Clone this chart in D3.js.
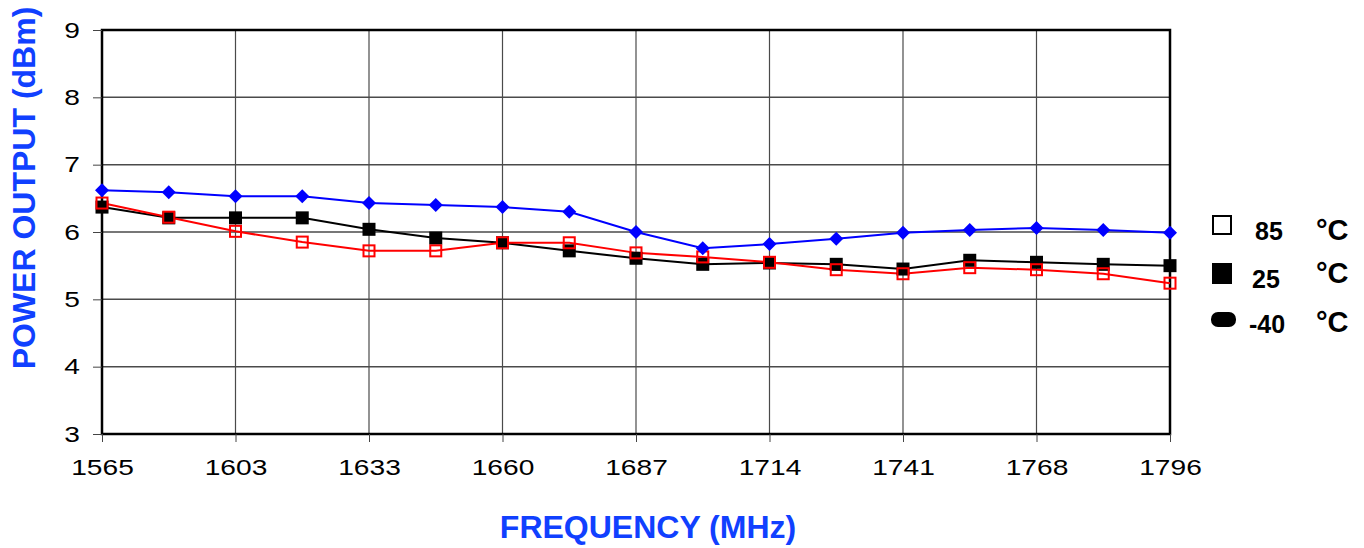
<!DOCTYPE html>
<html>
<head>
<meta charset="utf-8">
<script src="https://cdn.jsdelivr.net/npm/d3@7/dist/d3.min.js"></script>
<style>
  body { margin: 0; background: #fff; }
  svg { display: block; font-family: "Liberation Sans", Arial, sans-serif; }
</style>
</head>
<body>
<div id="chart"></div>
<script>
// Frequency points: 17 measurements, only every other one is labelled.
const pointIndex = d3.range(17);
const freqLabels = ["1565", "1603", "1633", "1660", "1687", "1714", "1741", "1768", "1796"];
const yTicks = [3, 4, 5, 6, 7, 8, 9];

// Power output (dBm) per temperature.
const powerMinus40 = [6.62, 6.59, 6.53, 6.53, 6.43, 6.40, 6.37, 6.30, 6.00, 5.76, 5.82, 5.90, 5.99, 6.03, 6.06, 6.03, 5.99];
const power25 = [6.37, 6.21, 6.21, 6.21, 6.04, 5.91, 5.84, 5.72, 5.61, 5.52, 5.54, 5.52, 5.45, 5.58, 5.55, 5.52, 5.50];
const power85 = [6.43, 6.22, 6.01, 5.85, 5.72, 5.72, 5.84, 5.84, 5.69, 5.63, 5.55, 5.44, 5.38, 5.47, 5.44, 5.38, 5.24];

const legendLabels = ["85", "25", "-40"];

// Layout
const width = 1364;
const height = 548;
const margin = { top: 30, right: 194, bottom: 114, left: 102 };
const innerW = width - margin.left - margin.right;
const innerH = height - margin.top - margin.bottom;
const tickStretch = 1.28;

const svg = d3.select("#chart").append("svg")
  .attr("width", width)
  .attr("height", height);

const g = svg.append("g")
  .attr("transform", `translate(${margin.left},${margin.top})`);

// Scales
const x = d3.scalePoint().domain(pointIndex).range([0, innerW]);
const y = d3.scaleLinear().domain([3, 9]).range([innerH, 0]);

// Horizontal grid
g.append("g")
  .selectAll("line")
  .data(yTicks)
  .join("line")
  .attr("x1", 0).attr("x2", innerW)
  .attr("y1", (d) => y(d)).attr("y2", (d) => y(d))
  .attr("stroke", "#4a4a4a").attr("stroke-width", 1.5);

// Vertical grid at labelled points
const labelledIdx = pointIndex.filter((i) => i % 2 === 0);
g.append("g")
  .selectAll("line")
  .data(labelledIdx)
  .join("line")
  .attr("x1", (d) => x(d)).attr("x2", (d) => x(d))
  .attr("y1", 0).attr("y2", innerH)
  .attr("stroke", "#4a4a4a").attr("stroke-width", 1.2);

// Frame
g.append("rect")
  .attr("x", 0).attr("y", 0)
  .attr("width", innerW).attr("height", innerH)
  .attr("fill", "none")
  .attr("stroke", "#000").attr("stroke-width", 2.5);

// X axis
const xAxis = g.append("g")
  .attr("transform", `translate(0,${innerH})`)
  .call(d3.axisBottom(x)
    .tickValues(labelledIdx)
    .tickFormat((d) => freqLabels[d / 2])
    .tickSize(8)
    .tickPadding(11));
xAxis.select(".domain").remove();
xAxis.selectAll(".tick line").attr("stroke", "#444");
xAxis.selectAll(".tick text")
  .attr("font-size", 22)
  .attr("fill", "#000")
  .attr("transform", `scale(${tickStretch},1)`)
  .attr("dy", "1em");

// Y axis
const yAxis = g.append("g")
  .call(d3.axisLeft(y)
    .tickValues(yTicks)
    .tickFormat(d3.format("d"))
    .tickSize(9)
    .tickPadding(13));
yAxis.select(".domain").remove();
yAxis.selectAll(".tick line").attr("stroke", "#444");
yAxis.selectAll(".tick text")
  .attr("font-size", 22)
  .attr("fill", "#000")
  .attr("x", -22 / tickStretch)
  .attr("transform", `scale(${tickStretch},1)`);

// Lines
const line = d3.line().x((d, i) => x(i)).y((d) => y(d));

function drawLine(values, color) {
  g.append("path")
    .datum(values)
    .attr("d", line)
    .attr("fill", "none")
    .attr("stroke", color)
    .attr("stroke-width", 2);
}

drawLine(power25, "#000");
drawLine(power85, "#ff0000");
drawLine(powerMinus40, "#0000ff");

// Markers
g.append("g")
  .selectAll("rect")
  .data(power25)
  .join("rect")
  .attr("x", (d, i) => x(i) - 6.5)
  .attr("y", (d) => y(d) - 6.5)
  .attr("width", 13).attr("height", 13)
  .attr("fill", "#000");

g.append("g")
  .selectAll("rect")
  .data(power85)
  .join("rect")
  .attr("x", (d, i) => x(i) - 5.5)
  .attr("y", (d) => y(d) - 5.5)
  .attr("width", 11).attr("height", 11)
  .attr("fill", "none")
  .attr("stroke", "#ff0000").attr("stroke-width", 2);

g.append("g")
  .selectAll("path")
  .data(powerMinus40)
  .join("path")
  .attr("transform", (d, i) => `translate(${x(i)},${y(d)})`)
  .attr("d", "M0,-7L7,0L0,7L-7,0Z")
  .attr("fill", "#0000ff");

// Axis titles
svg.append("text")
  .attr("transform", `translate(35,${188})rotate(-90)`)
  .attr("text-anchor", "middle")
  .attr("font-size", 32)
  .attr("font-weight", "bold")
  .attr("fill", "#1040ff")
  .text("POWER OUTPUT (dBm)");

svg.append("text")
  .attr("x", 648).attr("y", 538)
  .attr("text-anchor", "middle")
  .attr("font-size", 32)
  .attr("font-weight", "bold")
  .attr("fill", "#1040ff")
  .text("FREQUENCY (MHz)");

// Legend
const legend = svg.append("g");
const rowY = [225, 273, 320];

legend.append("rect")
  .attr("x", 1213).attr("y", rowY[0] - 9)
  .attr("width", 18).attr("height", 18)
  .attr("fill", "#fff").attr("stroke", "#000").attr("stroke-width", 2);
legend.append("rect")
  .attr("x", 1212).attr("y", rowY[1] - 10)
  .attr("width", 20).attr("height", 21)
  .attr("fill", "#000");
legend.append("rect")
  .attr("x", 1211).attr("y", rowY[2] - 8)
  .attr("width", 25).attr("height", 15)
  .attr("rx", 7)
  .attr("fill", "#000");

const labelX = [1255, 1252, 1249];
const labelBase = [240, 288, 333];
legend.selectAll("text.val")
  .data(legendLabels)
  .join("text")
  .attr("class", "val")
  .attr("x", (d, i) => labelX[i])
  .attr("y", (d, i) => labelBase[i])
  .attr("font-size", 25)
  .attr("font-weight", "bold")
  .text((d) => d);

const unitBase = [240, 283, 332];
legend.selectAll("text.unit")
  .data(legendLabels)
  .join("text")
  .attr("class", "unit")
  .attr("x", 1316)
  .attr("y", (d, i) => unitBase[i])
  .attr("font-size", 29)
  .attr("font-weight", "bold")
  .text("°C");
</script>
</body>
</html>
